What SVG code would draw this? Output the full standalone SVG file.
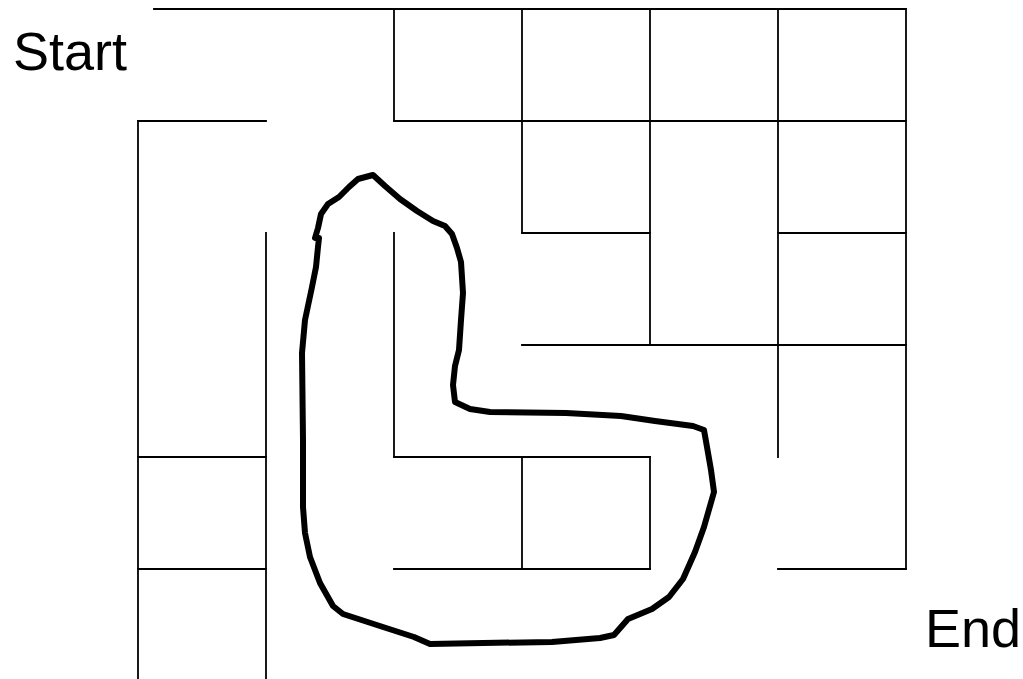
<svg xmlns="http://www.w3.org/2000/svg" width="1023" height="679" viewBox="0 0 1023 679">
<style>
.wall{stroke:#000;stroke-width:1.8;fill:none;stroke-linecap:square}
.route{stroke:#000;stroke-width:6;fill:none;stroke-linejoin:round;stroke-linecap:round}
.lbl{font-family:"Liberation Sans",Arial,sans-serif;font-size:54px;fill:#000}
</style>
<rect width="1023" height="679" fill="#fff"/>
<g id="maze" class="wall">
<line x1="154" y1="9" x2="906" y2="9"/>
<line x1="138" y1="121" x2="266" y2="121"/>
<line x1="394" y1="121" x2="906" y2="121"/>
<line x1="522" y1="233" x2="650" y2="233"/>
<line x1="778" y1="233" x2="906" y2="233"/>
<line x1="522" y1="345" x2="906" y2="345"/>
<line x1="138" y1="457" x2="266" y2="457"/>
<line x1="394" y1="457" x2="650" y2="457"/>
<line x1="138" y1="569" x2="266" y2="569"/>
<line x1="394" y1="569" x2="650" y2="569"/>
<line x1="778" y1="569" x2="906" y2="569"/>
<line x1="138" y1="121" x2="138" y2="679"/>
<line x1="266" y1="233" x2="266" y2="679"/>
<line x1="394" y1="9" x2="394" y2="121"/>
<line x1="394" y1="233" x2="394" y2="457"/>
<line x1="522" y1="9" x2="522" y2="233"/>
<line x1="522" y1="457" x2="522" y2="569"/>
<line x1="650" y1="9" x2="650" y2="345"/>
<line x1="650" y1="457" x2="650" y2="569"/>
<line x1="778" y1="9" x2="778" y2="457"/>
<line x1="906" y1="9" x2="906" y2="569"/>
</g>
<g id="path">
<path class="route" d="M315,238 L318,228 L321,214 L328,204 L339,197 L349,187 L358,179 L373,175 L385,186 L400,199 L417,211 L433,221 L445,226 L452,234 L457,248 L461,262 L463,293 L461,320 L459,350 L455,366 L453,385 L455,402 L470,409 L490,412 L566,413 L621,416 L655,421 L693,426 L704,430 L707,447 L711,470 L714,492 L704,527 L695,552 L683,579 L669,597 L652,609 L628,619 L621,627 L614,635 L600,638 L552,642 L483,643 L430,644 L414,637 L383,627 L343,614 L333,606 L320,583 L310,557 L305,533 L303,507 L303,440 L302,353 L305,320 L312,287 L316,267 L318,247 L319,238"/>
</g>
<g id="start"><text class="lbl" x="13" y="70">Start</text></g>
<g id="end"><text class="lbl" x="925" y="647">End</text></g>
</svg>
